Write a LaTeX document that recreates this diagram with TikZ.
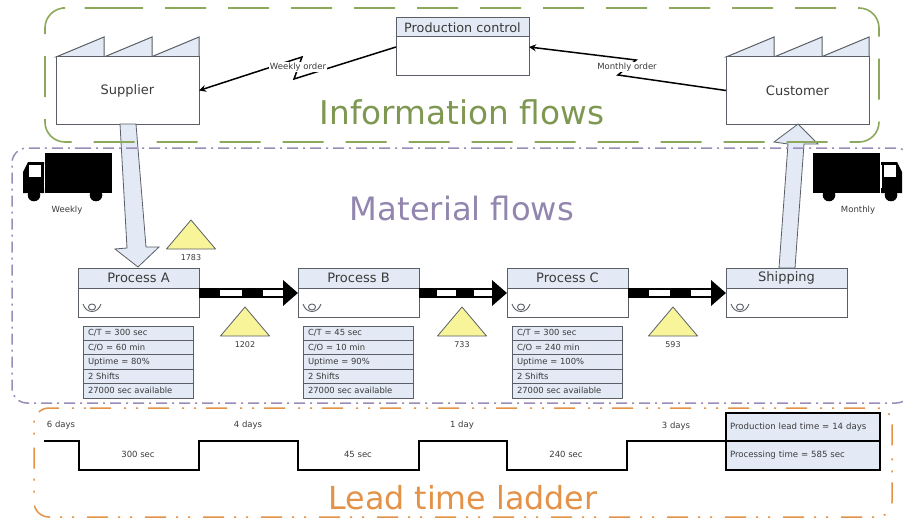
\documentclass[tikz,border=0pt]{standalone}
\usepackage{fontspec}
\setmainfont{DejaVu Sans}
\usetikzlibrary{calc,arrows.meta}
\definecolor{pale}{HTML}{E3EAF5}
\definecolor{edge}{HTML}{5A5F66}
\definecolor{ink}{HTML}{3A3A3A}
\definecolor{greenf}{HTML}{8CA85A}
\definecolor{purplef}{HTML}{9A8DB8}
\definecolor{orangef}{HTML}{E39247}
\definecolor{yellowf}{HTML}{F8F49A}
\newcommand{\fs}[1]{\fontsize{#1}{#1}\selectfont}
\tikzset{
  x=1pt,y=-1pt,
  every node/.style={inner sep=0pt,outer sep=0pt,text=ink},
  boxbody/.style={draw=edge,line width=1pt,fill=white,anchor=north west,minimum width=#1},
  head/.style={draw=edge,line width=1pt,fill=pale,anchor=north west,minimum width=#1},
  tag/.style={font=\fs{8.5}},
  stocktag/.style={font=\fs{8}},
  taglabel/.style={font=\fs{8.5},fill=white,inner xsep=0.5pt,inner ysep=1pt},
  big/.style={font=\fs{13}},
  datarow/.style={draw=edge,line width=1pt,fill=pale,anchor=north west,minimum width=110pt,minimum height=14.4pt,font=\fs{8.4},text width=100pt,align=left},
  framegreen/.style={draw=greenf,line width=1.6pt,rounded corners=20pt,dash pattern=on 41pt off 22pt},
  framepurple/.style={draw=purplef,line width=1.5pt,rounded corners=15pt,dash pattern=on 11pt off 5pt on 2pt off 5pt},
  frameorange/.style={draw=orangef,line width=1.5pt,rounded corners=15pt,dash pattern=on 21pt off 13pt on 2pt off 10pt on 2pt off 10pt},
  signal/.style={draw=black,line width=1.5pt,-{Stealth[length=7pt,width=7pt]}},
  pushband/.style={draw=black,line width=10pt,-{Triangle[length=15pt,width=25pt]}},
  bigarrow/.style={draw=edge,line width=0.8pt,fill=pale,line join=miter},
  ladder/.style={draw=black,line width=1.7pt,line join=miter},
  stock/.style={draw=edge,line width=0.8pt,fill=yellowf,line join=round},
  sumbox/.style={draw=black,line width=1.7pt,fill=pale,anchor=north west,minimum width=154pt,font=\fs{8.6},text width=146pt,align=left},
  operator/.pic={
    \draw[edge,line width=0.9pt] (0,0) ellipse (3.5 and 3);
    \draw[edge,line width=0.9pt] (-9,-3) .. controls (-6,7) and (6,7) .. (9,-3);
  },
  truck/.pic={
    \fill[black] (45,153) rectangle (112,193);
    \fill[black] (44,162) -- (28,162) -- (23,172) -- (23,193) -- (44,193) -- cycle;
    \fill[white] (29,165) rectangle (41,177);
    \draw[white,line width=0.7pt] (44,165) -- (44,188);
    \fill[black] (34,195) circle (6.3);
    \fill[black] (96,195) circle (6.3);
  }
}
% factory: name, left x, label
\newcommand{\factory}[3]{
  \foreach \o in {0,48,95}{
    \draw[draw=edge,line width=1pt,fill=pale,line join=miter] (#2+\o,57) -- (#2+\o+48,37) -- (#2+\o+48,57) -- cycle;
  }
  \node[boxbody=143pt,minimum height=67pt,font=\fs{13}] (#1) at (#2,57) {#3};
}
% process: id, left x, label
\newcommand{\process}[3]{
  \node[boxbody=121pt,minimum height=29pt] (b#1) at (#2,288) {};
  \node[head=121pt,minimum height=20pt,big] (h#1) at (#2,268) {#3};
  \path ($(b#1.south west)+(14,-10)$) pic {operator};
}
% data box: id, left x, five rows
\newcommand{\databox}[7]{
  \node[datarow] (d#1a) at (#2,326) {#3};
  \node[datarow] (d#1b) at (#2,340.4) {#4};
  \node[datarow] (d#1c) at (#2,354.8) {#5};
  \node[datarow] (d#1d) at (#2,369.2) {#6};
  \node[datarow] (d#1e) at (#2,383.6) {#7};
}
% stock triangle: id, apex x, apex y, label
\newcommand{\stocktri}[4]{
  \draw[stock] (#2,#3) -- (#2+24.5,#3+29) -- (#2-24.5,#3+29) -- cycle;
  \node[stocktag] (s#1) at (#2,#3+37.5) {#4};
}
% push arrow: from, to, white on, white off
\newcommand{\pusharrow}[4]{
  \coordinate (p#1) at ($(b#1.north east)+(0,5)$);
  \coordinate (q#1) at ($(b#2.north west)+(0,5)$);
  \draw[pushband] (p#1) -- (q#1);
  \draw[white,line width=6pt,dash pattern=on #3pt off #4pt,dash phase=#3pt] (p#1) -- ($(q#1)+(-15,0)$);
}
\begin{document}
\begin{tikzpicture}
\clip (0,0) rectangle (905,519);
\fill[white] (0,0) rectangle (905,519);

% factories and control
\factory{sup}{56}{Supplier}
\factory{cus}{726}{Customer}
\node[boxbody=133pt,minimum height=39pt] (pcb) at (396,37) {};
\node[head=133pt,minimum height=19pt,font=\fs{12.8}] (pch) at (396,18) {Production control};

% information flows
\coordinate (w1) at ($(pcb.north west)+(0,10)$);
\coordinate (w2) at (294,79);
\coordinate (w3) at (302,57);
\draw[signal] (w1) -- (w2) -- (w3) -- (sup.east);
\node[taglabel] (wo) at (298,67) {Weekly order};
\coordinate (m1) at (618,75);
\coordinate (m2) at (636,60);
\coordinate (m3) at ($(pcb.north east)+(0,10)$);
\draw[signal] (cus.west) -- (m1) -- (m2) -- (m3);
\node[taglabel] (mo) at (627,67) {Monthly order};

% processes
\process{A}{78}{Process A}
\process{B}{298}{Process B}
\process{C}{507}{Process C}
\process{S}{726}{Shipping}
\databox{A}{83}{C/T = 300 sec}{C/O = 60 min}{Uptime = 80\%}{2 Shifts}{27000 sec available}
\databox{B}{303}{C/T = 45 sec}{C/O = 10 min}{Uptime = 90\%}{2 Shifts}{27000 sec available}
\databox{C}{512}{C/T = 300 sec}{C/O = 240 min}{Uptime = 100\%}{2 Shifts}{27000 sec available}

% material arrows
\coordinate (sa) at ($(sup.south west)+(64,0)$);
\coordinate (sb) at ($(sup.south west)+(80,0)$);
\draw[bigarrow] (sa) -- (127,248) -- (115,249) -- (138,267) -- (159,247) -- (146,247) -- (sb) -- cycle;
\coordinate (ca) at ($(hS.north west)+(53,0)$);
\coordinate (cb) at ($(hS.north west)+(69,0)$);
\draw[bigarrow] (ca) -- (788,144) -- (774,142) -- (798,124) -- (818,144) -- (804,144) -- (cb) -- cycle;

% push arrows
\pusharrow{A}{B}{22}{21}
\pusharrow{B}{C}{19}{18}
\pusharrow{C}{S}{21}{21}

% stock
\stocktri{1}{191}{220}{1783}
\stocktri{2}{245}{307}{1202}
\stocktri{3}{462}{307}{733}
\stocktri{4}{673}{307}{593}

% trucks
\pic at (0,0) {truck};
\pic[xscale=-1] at (925,0) {truck};
\node[tag] (tw) at (67,210) {Weekly};
\node[tag] (tm) at (858,210) {Monthly};

% frames
\draw[framepurple] (65,148) -- (911,148) -- (911,403) -- (12,403) -- (12,148) -- cycle;
\draw[frameorange] (75,408) -- (892,408) -- (892,517) -- (34,517) -- (34,408) -- cycle;
\draw[framegreen] (82,8) -- (879,8) -- (879,142) -- (45,142) -- (45,8) -- cycle;

% titles
\node[font=\fs{32.7},text=greenf!90!black] (t1) at (462,112) {Information flows};
\node[font=\fs{32.2},text=purplef!95!black] (t2) at (462,208) {Material flows};
\node[font=\fs{31.7},text=orangef] (t3) at (463,498) {Lead time ladder};

% ladder
\node[sumbox,minimum height=28pt] (lt) at (726,413) {Production lead time = 14 days};
\node[sumbox,minimum height=29pt] (pt) at (726,441) {Processing time = 585 sec};
\coordinate (l0) at (44,441);
\draw[ladder] (l0) -- (79,441) -- (79,470) -- (199,470) -- (199,441) -- (298,441) -- (298,470) -- (419,470) -- (419,441) -- (507,441) -- (507,470) -- (627,470) -- (627,441) -- (lt.south west);
\node[tag] (d1) at (61,425) {6 days};
\node[tag] (d2) at (248,425) {4 days};
\node[tag] (d3) at (462,425) {1 day};
\node[tag] (d4) at (676,426) {3 days};
\node[tag] (c1) at (138,454) {300 sec};
\node[tag] (c2) at (358,454) {45 sec};
\node[tag] (c3) at (566,454) {240 sec};
\end{tikzpicture}
\end{document}
